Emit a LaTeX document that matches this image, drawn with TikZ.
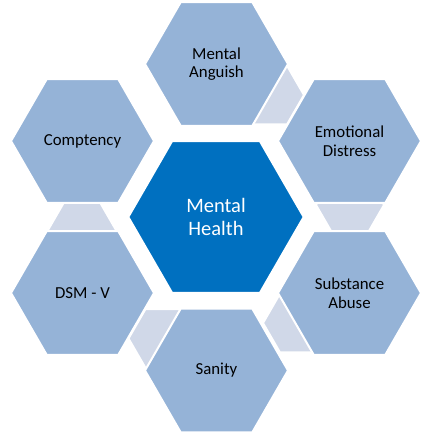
\documentclass[tikz,border=0pt]{standalone}
\usepackage{fontspec}
\setmainfont{Carlito}
\definecolor{outerblue}{HTML}{95B3D7}
\definecolor{centerblue}{HTML}{0070C0}
\definecolor{linkgray}{HTML}{D0D8E8}
\newcommand{\hexshape}[4]{%
  \path[#1] (#2,#3) +(0:#4) -- +(60:#4) -- +(120:#4) -- +(180:#4) -- +(240:#4) -- +(300:#4) -- cycle;}
\tikzset{
  outerhex/.style={fill=outerblue, draw=white, line width=2pt, line join=miter},
  centerhex/.style={fill=centerblue, draw=white, line width=2pt, line join=miter},
  linkhex/.style={fill=linkgray, draw=white, line width=2pt, line join=miter},
  outertext/.style={align=center, text=black, inner sep=0pt, font=\fontsize{16.8}{18.5}\selectfont},
  centertext/.style={align=center, text=white, inner sep=0pt, font=\fontsize{20.5}{23.3}\selectfont}
}
\begin{document}
\begin{tikzpicture}[x=1pt,y=-1pt]
\useasboundingbox (0,0) rectangle (432,435);
% connectors
\hexshape{linkhex}{270}{95}{34}
\hexshape{linkhex}{350}{205}{34}
\hexshape{linkhex}{297}{323}{34}
\hexshape{linkhex}{162.5}{338.5}{34}
\hexshape{linkhex}{82}{230}{34}
% outer hexagons
\hexshape{outerhex}{216.5}{64}{71.5}
\hexshape{outerhex}{349.5}{141}{71.5}
\hexshape{outerhex}{349.5}{293}{71.5}
\hexshape{outerhex}{216.5}{370.5}{71.5}
\hexshape{outerhex}{82.5}{293}{71.5}
\hexshape{outerhex}{82.5}{141}{71.5}
% center hexagon
\hexshape{centerhex}{216}{217}{87.7}
% texts
\node[outertext] (anguish) at (216.5,64) {Mental\\Anguish};
\node[outertext] (distress) at (349.5,141) {Emotional\\Distress};
\node[outertext] (abuse) at (349.5,293) {Substance\\Abuse};
\node[outertext] (sanity) at (216.5,370.5) {Sanity};
\node[outertext] (dsm) at (82.5,293) {DSM - V};
\node[outertext] (comp) at (82.5,141) {Comptency};
\node[centertext] (health) at (216,217) {Mental\\Health};
\end{tikzpicture}
\end{document}
